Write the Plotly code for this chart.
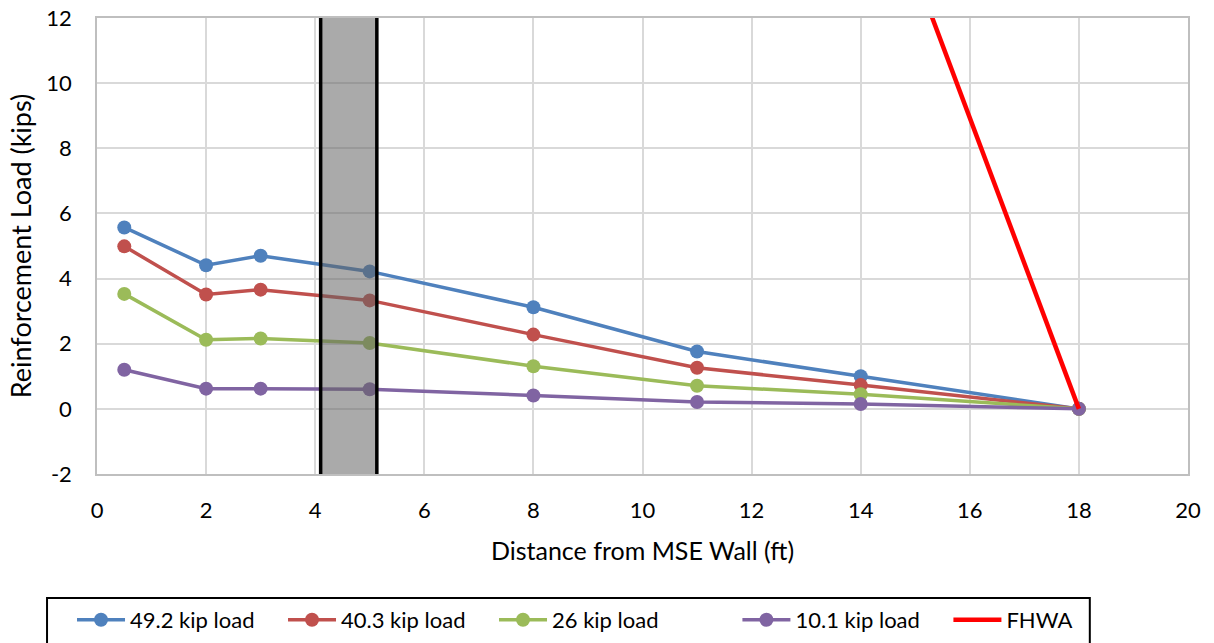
import plotly.graph_objects as go

distance = [0.5, 2, 3, 5, 8, 11, 14, 18]
load_49_2 = [5.57, 4.41, 4.70, 4.22, 3.12, 1.76, 1.00, 0.0]
load_40_3 = [4.99, 3.51, 3.66, 3.33, 2.28, 1.26, 0.73, 0.0]
load_26 = [3.53, 2.12, 2.16, 2.02, 1.31, 0.71, 0.45, 0.0]
load_10_1 = [1.20, 0.62, 0.62, 0.60, 0.41, 0.21, 0.15, 0.0]
fhwa_x = [15.0, 18]
fhwa_y = [13.4, 0.0]
band_x0, band_x1 = 4.1, 5.13
y_tickvals = [-2, 0, 2, 4, 6, 8, 10, 12]
y_ticktext = ["-2", "0", "2", "4", "6", "8", "10", "12"]
x_tickvals = [0, 2, 4, 6, 8, 10, 12, 14, 16, 18, 20]
x_ticktext = ["0", "2", "4", "6", "8", "10", "12", "14", "16", "18", "20"]

series = [
    ("49.2 kip load", load_49_2, "#4F81BD", "legend"),
    ("40.3 kip load", load_40_3, "#C0504D", "legend"),
    ("26 kip load", load_26, "#9BBB59", "legend"),
    ("10.1 kip load", load_10_1, "#8064A2", "legend2"),
]

FONT = "Lato, 'Open Sans', sans-serif"
fig = go.Figure()
for name, vals, col, lg in series:
    fig.add_trace(go.Scatter(
        x=distance, y=vals, name=name, mode="lines+markers",
        line=dict(color=col, width=3.5),
        marker=dict(color=col, size=14),
        legend=lg,
    ))
fig.add_trace(go.Scatter(
    x=fhwa_x, y=fhwa_y, name="FHWA", mode="lines",
    line=dict(color="#FF0000", width=4.5),
    legend="legend2",
))

fig.add_shape(type="rect", xref="x", yref="y", x0=band_x0, x1=band_x1, y0=-2, y1=12,
              fillcolor="rgba(100,100,100,0.55)", line=dict(width=0), layer="above")
for bx in (band_x0, band_x1):
    fig.add_shape(type="line", xref="x", yref="y", x0=bx, x1=bx, y0=-2.05, y1=12,
                  line=dict(color="black", width=3.5), layer="above")

# legend frame
fig.add_shape(type="rect", xref="paper", yref="paper", x0=-0.0458, x1=0.910,
              y0=-0.272, y1=-0.45, line=dict(color="black", width=2),
              fillcolor="rgba(0,0,0,0)", layer="above")

axis_common = dict(
    showgrid=True, gridcolor="#D9D9D9", gridwidth=1.5,
    showline=True, linecolor="#BFBFBF", linewidth=1.5, mirror=True,
    zeroline=False, ticks="", ticklabeloverflow="allow", automargin=False,
    tickfont=dict(family=FONT, size=22, color="black"),
)
fig.update_xaxes(range=[0, 20], tickmode="array", tickvals=x_tickvals, ticktext=x_ticktext,
                 ticklabelstandoff=16,
                 title=dict(text="Distance from MSE Wall (ft)",
                            font=dict(family=FONT, size=25, color="black"), standoff=20),
                 **axis_common)
fig.update_yaxes(range=[-2, 12], tickmode="array", tickvals=y_tickvals, ticktext=y_ticktext,
                 ticklabelstandoff=19,
                 title=dict(text="Reinforcement Load (kips)",
                            font=dict(family=FONT, size=27, color="black"), standoff=7),
                 **axis_common)

legend_common = dict(orientation="h", yanchor="middle", xanchor="left", y=-0.320,
                     bgcolor="rgba(0,0,0,0)", borderwidth=0,
                     font=dict(family=FONT, size=22, color="black"),
                     itemwidth=48, entrywidth=148, traceorder="normal")

fig.update_layout(
    width=1214, height=643,
    margin=dict(l=97, r=26, t=18, b=169, autoexpand=False),
    paper_bgcolor="white", plot_bgcolor="white",
    font=dict(family=FONT, color="black"),
    legend=dict(x=-0.0229, **legend_common),
    legend2=dict(x=0.587, **legend_common),
    showlegend=True,
)

fig.write_html("out.html", config={"displayModeBar": False},
               post_script="document.body.style.margin='0';")
